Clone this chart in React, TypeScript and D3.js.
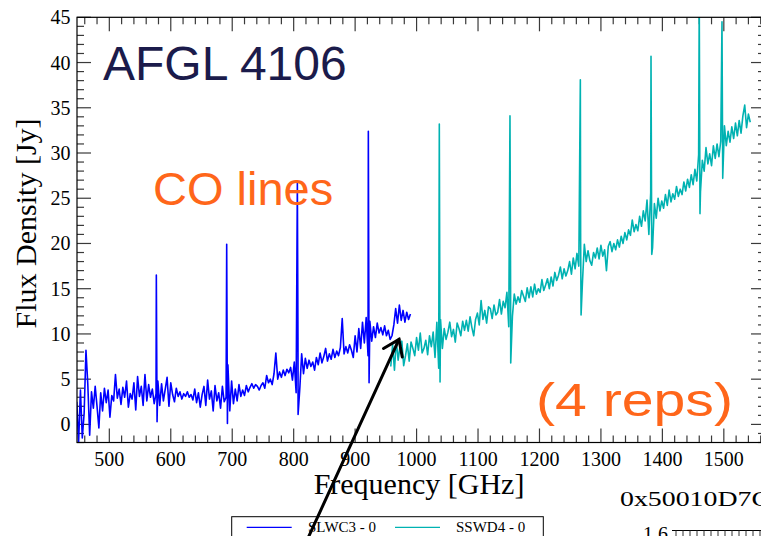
import React from "react";
import * as d3 from "d3";

// ---------- data ----------
const FREQ_STEP = 3;
const blueStart = 447;
const blueFlux = [
  2.5, -2.0, 3.8, -1.5, 1.2, 8.2, 4.4, -1.2, 3.6, 1.8,
  4.2, 2.0, -0.4, 3.5, 1.5, 4.0, 2.4, 3.8, 0.8, 3.2,
  2.6, 5.5, 2.9, 3.9, 2.2, 4.1, 3.0, 4.8, 1.9, 3.4,
  2.8, 4.6, 1.6, 5.3, 3.1, 4.2, 2.1, 5.5, 2.6, 4.4,
  3.0, 3.9, 2.3, 3.4, 4.8, 2.1, 4.5, 2.6, 3.9, 5.2,
  2.0, 4.6, 3.3, 2.5, 4.0, 3.1, 3.6, 2.8, 3.4, 3.1,
  3.6, 3.0, 3.3, 2.7, 3.9, 2.4, 3.5, 1.9, 3.3, 4.2,
  2.1, 4.9, 2.8, 3.7, 1.5, 4.3, 2.6, 3.5, 1.8, 4.2,
  2.5, 3.0, 6.6, 1.5, 4.8, 2.3, 3.9, 2.6, 4.4, 3.1,
  3.8, 3.2, 4.3, 3.6, 4.1, 4.5, 4.0, 4.4, 4.2, 3.8,
  4.3, 4.6, 4.0, 5.4, 4.6, 5.0, 4.4, 5.6, 7.9, 5.0,
  5.8, 5.2, 6.0, 5.4, 6.1, 5.7, 6.3, 4.9, 6.9, 3.5,
  9.5, 4.0, 7.8, 5.6, 7.3, 6.2, 7.1, 6.4, 6.9, 6.0,
  7.4, 6.6, 7.9, 6.8, 7.5, 8.4, 7.0, 7.8, 7.2, 8.3,
  7.4, 8.1, 7.6, 8.5, 11.7, 7.8, 8.6, 7.9, 8.8, 8.2,
  7.4, 9.8, 8.0, 10.6, 8.4, 11.3, 9.0, 11.8, 7.6, 11.4,
  9.2, 10.8, 9.6, 11.2, 10.1, 10.7, 9.9, 10.9, 9.8, 10.4,
  9.4, 9.8, 11.0, 12.8, 11.2, 13.2, 11.5, 12.6, 11.3, 12.4,
  11.6, 12.2,
];
const blueLineFreq = [576.5, 691, 806, 921.5];
const blueLinePeak = [16.5, 19.9, 26.7, 32.4];
const blueLineDip = [0.3, 0.1, 1.1, 4.6];

const cyanStart = 958;
const cyanFlux = [
  6.4, 8.8, 6.0, 9.3, 7.1, 8.6, 9.2, 6.5, 7.6, 8.9,
  7.0, 9.1, 8.4, 7.6, 9.6, 8.2, 10.1, 7.9, 8.4, 9.3,
  7.7, 9.8, 8.6, 10.2, 7.4, 11.3, 6.2, 11.6, 8.4, 10.6,
  9.4, 10.2, 11.3, 9.7, 10.5, 9.1, 11.2, 10.6, 9.8, 11.4,
  10.4, 11.5, 10.3, 11.9, 10.7, 9.8, 11.6, 12.3, 11.0, 13.7,
  11.6, 12.6, 11.2, 13.0, 12.8, 11.7, 13.2, 12.1, 12.4, 13.8,
  12.2, 13.6, 12.9, 14.6, 10.8, 15.2, 12.0, 14.4, 13.3, 14.1,
  13.5, 14.8, 14.2, 13.6, 15.1, 14.0, 15.2, 14.1, 15.5, 14.4,
  15.0, 14.6, 16.0, 14.8, 15.4, 16.1, 15.0, 16.3, 15.3, 16.8,
  15.9, 16.5, 17.4, 16.1, 17.2, 16.4, 17.0, 18.0, 16.6, 18.4,
  17.2, 18.9, 17.5, 20.2, 15.8, 19.9, 18.0, 19.2, 18.1, 17.6,
  19.0, 18.4, 19.5, 18.3, 19.8, 18.6, 19.3, 17.0, 19.7, 20.2,
  19.1, 20.0, 19.3, 20.4, 19.6, 20.8, 20.0, 21.2, 20.4, 21.5,
  20.9, 22.6, 21.3, 22.1, 21.4, 23.0, 21.9, 23.6, 22.5, 24.8,
  21.0, 25.6, 19.5, 24.4, 22.8, 25.0, 23.6, 24.7, 23.9, 25.4,
  24.2, 25.9, 24.6, 25.5, 24.9, 26.3, 25.2, 26.0, 25.4, 26.8,
  25.8, 27.1, 26.2, 27.6, 26.5, 28.2, 26.9, 29.8, 25.7, 29.2,
  28.0, 30.6, 28.8, 29.9, 28.6, 30.8, 29.4, 31.0, 29.6, 31.3,
  30.2, 33.0, 30.8, 32.4, 31.2, 32.9, 31.6, 33.3, 31.9, 33.6,
  32.2, 34.1, 35.3, 32.8, 34.3, 33.4,
];
const cyanLineFreq = [1037, 1152, 1266.5, 1381.5, 1460, 1497];
const cyanLinePeak = [33.2, 34.1, 38.1, 40.7, 47, 44.5];
const cyanLineDip = [4.7, 6.8, 12.1, 18.8, 23.3, 27.2];

const xTickLabels = [500, 600, 700, 800, 900, 1000, 1100, 1200, 1300, 1400, 1500];
const yTickLabels = [0, 5, 10, 15, 20, 25, 30, 35, 40, 45];
const legendNames = ["SLWC3 - 0", "SSWD4 - 0"];
// arrow annotation in data coordinates: [freq, flux]
const arrowTail = [824.4, -12.4];
const arrowTip = [971.4, 9.4];

// ---------- layout ----------
const W = 761;
const H = 536;
const left = 77, right = 765, top = 17.3, bottom = 442.5;
const BLUE = "#0000ff";
const CYAN = "#00b2b2";
const ORANGE = "#ff661a";
const SERIF = "'Liberation Serif', 'Times New Roman', serif";
const SANS = "'Liberation Sans', Arial, sans-serif";

function buildSeries(start: number, flux: number[], lf: number[], lp: number[], ld: number[]) {
  const pts: [number, number][] = flux.map((v, i) => [start + i * FREQ_STEP, v]);
  lf.forEach((f, k) => {
    pts.push([f, lp[k]]);
    pts.push([f + 1.2, ld[k]]);
  });
  pts.sort((a, b) => a[0] - b[0]);
  return pts;
}

export default function App() {
  const x = d3.scaleLinear().domain([447.4, 1567]).range([left, right]);
  const y = d3.scaleLinear().domain([-2, 45]).range([bottom, top]);
  const line = d3
    .line<[number, number]>()
    .x((d) => x(d[0]))
    .y((d) => y(d[1]));
  const blue = buildSeries(blueStart, blueFlux, blueLineFreq, blueLinePeak, blueLineDip);
  const cyan = buildSeries(cyanStart, cyanFlux, cyanLineFreq, cyanLinePeak, cyanLineDip);

  const xMinor = d3.range(460, 1561, 20);
  const yMinor = d3.range(-2, 46, 1);

  // arrow
  const tx = x(arrowTip[0]), ty = y(arrowTip[1]);
  const sx = x(arrowTail[0]), sy = y(arrowTail[1]);
  const ang = Math.atan2(sy - ty, sx - tx);
  const armLen = 18, spread = (35 * Math.PI) / 180;
  const a1 = [tx + armLen * Math.cos(ang + spread), ty + armLen * Math.sin(ang + spread)];
  const a2 = [tx + armLen * Math.cos(ang - spread), ty + armLen * Math.sin(ang - spread)];

  const tickColor = "#3a3a3a";

  return (
    <svg
      width={W}
      height={H}
      style={{ position: "absolute", left: 0, top: 0, background: "#fff" }}
    >
      <defs>
        <clipPath id="plotClip">
          <rect x={left} y={top} width={right - left} height={bottom - top} />
        </clipPath>
      </defs>
      <rect x={0} y={0} width={W} height={H} fill="#fff" />

      {/* minor / major ticks x (bottom & top, inward) */}
      {xMinor.map((f) => {
        const major = f % 100 === 0;
        const len = major ? 14 : 7;
        return (
          <g key={"xt" + f} stroke={tickColor} strokeWidth={1.2}>
            <line x1={x(f)} x2={x(f)} y1={bottom} y2={bottom - len} />
            <line x1={x(f)} x2={x(f)} y1={top} y2={top + len} />
          </g>
        );
      })}
      {yMinor.map((v) => {
        const major = v % 5 === 0;
        const len = major ? 14 : 7;
        return (
          <g key={"yt" + v} stroke={tickColor} strokeWidth={1.2}>
            <line x1={left} x2={left + len} y1={y(v)} y2={y(v)} />
            <line x1={right} x2={right - len} y1={y(v)} y2={y(v)} />
          </g>
        );
      })}

      {/* data */}
      <g clipPath="url(#plotClip)" fill="none" strokeLinejoin="round">
        <path d={line(blue) || ""} stroke={BLUE} strokeWidth={1.6} />
        <path d={line(cyan) || ""} stroke={CYAN} strokeWidth={1.6} />
      </g>

      {/* frame */}
      <rect
        x={left}
        y={top}
        width={right - left}
        height={bottom - top}
        fill="none"
        stroke="#000"
        strokeWidth={1.2}
      />

      {/* tick labels */}
      {xTickLabels.map((f) => (
        <text
          key={"xl" + f}
          x={x(f)}
          y={466}
          textAnchor="middle"
          fontFamily={SERIF}
          fontSize={20}
          fill="#000"
        >
          {f}
        </text>
      ))}
      {yTickLabels.map((v) => (
        <text
          key={"yl" + v}
          x={70.5}
          y={y(v) + 7}
          textAnchor="end"
          fontFamily={SERIF}
          fontSize={20}
          fill="#000"
        >
          {v}
        </text>
      ))}

      {/* axis titles */}
      <text
        x={419}
        y={494}
        textAnchor="middle"
        fontFamily={SERIF}
        fontSize={30}
        fill="#000"
      >
        Frequency [GHz]
      </text>
      <text
        transform="translate(36,223.4) rotate(-90)"
        textAnchor="middle"
        fontFamily={SERIF}
        fontSize={30}
        fill="#000"
      >
        Flux Density [Jy]
      </text>

      {/* annotations */}
      <text x={103} y={80} fontFamily={SANS} fontSize={48} fill="#1b1b4b">
        AFGL 4106
      </text>
      <text x={153} y={205} fontFamily={SANS} fontSize={47} fill={ORANGE}>
        CO lines
      </text>
      <text
        x={536}
        y={416}
        fontFamily={SANS}
        fontSize={47}
        fill={ORANGE}
        textLength={197}
        lengthAdjust="spacingAndGlyphs"
      >
        (4 reps)
      </text>

      {/* legend */}
      <rect x={231.7} y={516.7} width={311.6} height={40} fill="#fff" stroke="#000" strokeWidth={1} />
      <line x1={246.7} x2={291.7} y1={527.3} y2={527.3} stroke={BLUE} strokeWidth={1.2} />
      <text x={308} y={532} fontFamily={SERIF} fontSize={15} fill="#000">
        {legendNames[0]}
      </text>
      <line x1={395} x2={440} y1={527.3} y2={527.3} stroke={CYAN} strokeWidth={1.2} />
      <text x={456} y={532} fontFamily={SERIF} fontSize={15} fill="#000">
        {legendNames[1]}
      </text>

      {/* neighbouring panel fragment */}
      <text
        x={620}
        y={506}
        fontFamily={SERIF}
        fontSize={22}
        fill="#000"
        textLength={150}
        lengthAdjust="spacingAndGlyphs"
      >
        0x50010D7C
      </text>
      <text x={668} y={541} textAnchor="end" fontFamily={SERIF} fontSize={20} fill="#000">
        1.6
      </text>
      <line x1={672} x2={761} y1={530.5} y2={530.5} stroke="#000" strokeWidth={1} />
      {d3.range(676, 761, 7).map((px) => (
        <line key={"pt" + px} x1={px} x2={px} y1={530.5} y2={536} stroke="#333" strokeWidth={1} />
      ))}

      {/* arrow */}
      <g stroke="#000" strokeWidth={3} fill="none" strokeLinecap="round" strokeLinejoin="miter">
        <line x1={sx} y1={sy} x2={tx} y2={ty} />
        <polyline points={`${a1[0]},${a1[1]} ${tx},${ty} ${a2[0]},${a2[1]}`} />
      </g>
    </svg>
  );
}
